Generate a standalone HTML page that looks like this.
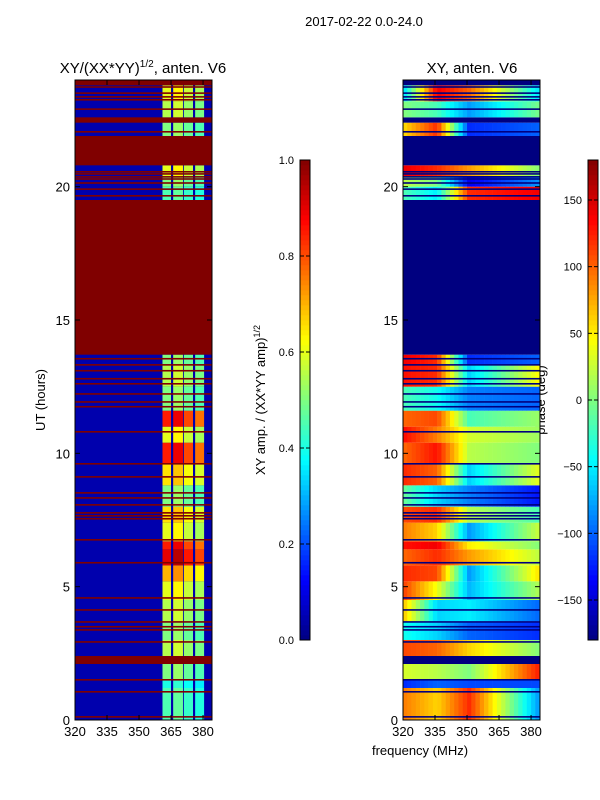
<!DOCTYPE html>
<html><head><meta charset="utf-8"><style>
body{margin:0;background:#fff;}
svg{display:block;font-family:"Liberation Sans",sans-serif;}
</style></head><body>
<svg id="fig" width="600" height="800" xmlns="http://www.w3.org/2000/svg">
<text x="364" y="26" font-size="13" text-anchor="middle">2017-02-22 0.0-24.0</text>
<text x="143" y="73" font-size="15" text-anchor="middle">XY/(XX*YY)<tspan font-size="10" dy="-6">1/2</tspan><tspan dy="6">, anten. V6</tspan></text>
<text x="472" y="73" font-size="15" text-anchor="middle">XY, anten. V6</text>
<text x="420" y="755" font-size="13" text-anchor="middle">frequency (MHz)</text>
<text transform="translate(45,400) rotate(-90)" font-size="13" text-anchor="middle">UT (hours)</text>
<text transform="translate(265,400) rotate(-90)" font-size="13" text-anchor="middle">XY amp. / (XX*YY amp)<tspan font-size="9" dy="-5">1/2</tspan></text>
<text transform="translate(545,400) rotate(-90)" font-size="13" text-anchor="middle">phase (deg)</text>
<g id="left"></g>
<g id="right"></g>
<g id="axes"></g>
<g id="cbars"></g>
</svg>
<script>
// time bands (hours), active-column amplitude, flag, phases at 320/335/350/380 MHz
const bandStart=[0,1.2,1.5,2.1,2.4,3.0,3.7,4.5,5.2,5.8,6.4,6.7,7.4,8.0,8.8,9.6,10.4,11.0,11.6,12.5,13.3,13.7,19.5,20.0,20.4,20.8,21.9,22.4,22.6,23.2,23.8];
const bandEnd=[1.2,1.5,2.1,2.4,3.0,3.7,4.5,5.2,5.8,6.4,6.7,7.4,8.0,8.8,9.6,10.4,11.0,11.6,12.5,13.3,13.7,19.5,20.0,20.4,20.8,21.9,22.4,22.6,23.2,23.8,24];
const bandAmp=[0.45,0.4,0.5,1,0.55,0.5,0.55,0.6,0.7,0.9,0.85,0.6,0.65,0.5,0.65,0.85,0.6,0.85,0.5,0.55,0.5,1,0.45,0.5,0.6,1,0.5,1,0.55,0.6,1];
const bandFlag=[0,0,0,1,0,0,0,0,0,0,0,0,0,0,0,0,0,0,0,0,0,1,0,0,0,1,0,1,0,0,1];
const phaseA=[90,-120,30,0,110,-40,60,110,120,100,130,90,110,-10,120,100,130,100,-20,130,140,0,-20,20,140,0,60,0,0,-50,0];
const phaseB=[60,-100,20,0,100,-60,-60,40,110,120,140,60,120,-60,100,130,90,110,-40,120,120,0,-50,0,120,0,120,0,-20,140,0];
const phaseC=[120,-110,0,0,60,-100,-50,-70,-80,80,50,-80,20,-90,-60,20,30,-20,-90,-60,-120,0,120,-140,80,0,-120,0,-80,100,0];
const phaseD=[-90,-110,130,0,0,-120,-100,20,60,20,0,30,-20,-130,40,0,10,10,-100,50,-100,0,140,-80,0,0,-100,0,0,-60,0];
const flagLines=[13.54,13.31,13.09,12.79,12.6,12.22,11.92,11.74,10.8,9.6,9.11,8.51,8.32,8.06,7.76,7.65,7.54,6.75,5.89,4.57,4.12,3.67,3.49,3.37,2.92,1.5,1.05,0.11,23.73,23.5,23.36,23.25,22.9,22.05,20.55,20.47,20.36,20.28,20.13,19.9,19.65];
const colStart=[361,366,371,376.3];
const colEnd=[365,370.6,375.3,380.5];
const colGain=[1,1.05,0.95,0.9];
const ampTicks=[0,0.2,0.4,0.6,0.8,1.0];
const phaseTicks=[-150,-100,-50,0,50,100,150];
const xTicks=[320,335,350,365,380];
const yTicks=[0,5,10,15,20];

const NS="http://www.w3.org/2000/svg";
const Y0=720,Y1=80,F0=320,F1=384.2;
const yS=h=>Y0-(h/24)*(Y0-Y1);
const xL=f=>75+(f-F0)/(F1-F0)*137;
const xR=f=>403+(f-F0)/(F1-F0)*137;
function jet(v){v=Math.max(0,Math.min(1,v));
 const c=x=>Math.round(255*Math.max(0,Math.min(1,1.5-Math.abs(4*v-x))));
 return `rgb(${c(3)},${c(2)},${c(1)})`;}
function rect(g,x,y,w,h,fill,name){const r=document.createElementNS(NS,'rect');
 r.setAttribute('x',x);r.setAttribute('y',y);r.setAttribute('width',w);r.setAttribute('height',h);r.setAttribute('fill',fill);
 
 
 g.appendChild(r);return r;}
const L=document.getElementById('left'),R=document.getElementById('right');
const bg=jet(0.045);
rect(L,75,80,137,640,bg,'amp-background');
for(let i=0;i<bandStart.length;i++){
 const y=yS(bandEnd[i]),h=yS(bandStart[i])-y;
 if(bandFlag[i]){rect(L,75,y,137,h,jet(1),'amp-flag-band');rect(R,403,y,137,h,jet(0),'phase-flag-band');continue;}
 for(let c=0;c<colStart.length;c++){
  const x=xL(colStart[c]);rect(L,x,y,xL(colEnd[c])-x,h,jet(bandAmp[i]*colGain[c]),'amp-cell');}
 const anch=[320,335,350,384],vals=[phaseA[i],phaseB[i],phaseC[i],phaseD[i]];
 for(let f=320;f<384.2;f+=2){
  let k=0;while(k<2&&f>anch[k+1])k++;
  const t=Math.min(1,(f-anch[k])/(anch[k+1]-anch[k]));
  const p=vals[k]+(vals[k+1]-vals[k])*t;
  rect(R,xR(f),y,xR(Math.min(f+2,F1))-xR(f)+0.3,h,jet((p+180)/360),'phase-cell');}
}
for(const h of flagLines){
 rect(L,75,yS(h)-1,137,1.6,jet(1),'amp-flag-line');
 rect(R,403,yS(h)-1,137,1.6,jet(0),'phase-flag-line');}
const A=document.getElementById('axes');
function line(g,x1,y1,x2,y2,name,w){const l=document.createElementNS(NS,'line');
 l.setAttribute('x1',x1);l.setAttribute('y1',y1);l.setAttribute('x2',x2);l.setAttribute('y2',y2);
 l.setAttribute('stroke','#000');l.setAttribute('stroke-width',w||1);
 
 
 g.appendChild(l);}
function text(g,x,y,s,anchor,name){const t=document.createElementNS(NS,'text');
 t.setAttribute('x',x);t.setAttribute('y',y);t.setAttribute('font-size','13');t.setAttribute('text-anchor',anchor);t.textContent=s;
 
 
 g.appendChild(t);}
for(const [x0,xs] of [[75,xL],[403,xR]]){
 const fr=document.createElementNS(NS,'rect');fr.setAttribute('x',x0);fr.setAttribute('y',80);fr.setAttribute('width',137);fr.setAttribute('height',640);
 fr.setAttribute('fill','none');fr.setAttribute('stroke','#000');
 
 
 A.appendChild(fr);
 for(const f of xTicks){const x=xs(f);line(A,x,720,x,715,'x-tick');line(A,x,80,x,85,'x-tick');text(A,x,736,String(f),'middle','x-tick-label');}
 for(const h of yTicks){const y=yS(h);line(A,x0,y,x0+5,y,'y-tick');line(A,x0+137,y,x0+132,y,'y-tick');text(A,x0-5,y+5,String(h),'end','y-tick-label');}
}
const C=document.getElementById('cbars');
for(const [cx,lo,hi,ticks,fmt] of [[300,0,1,ampTicks,v=>v.toFixed(1)],[588,-180,180,phaseTicks,v=>v<0?'\u2212'+(-v):String(v)]]){
 for(let k=0;k<96;k++){rect(C,cx,640-(k+1)*5,10,5.3,jet((k+0.5)/96),'colorbar-segment');}
 const fr=document.createElementNS(NS,'rect');fr.setAttribute('x',cx);fr.setAttribute('y',160);fr.setAttribute('width',10);fr.setAttribute('height',480);
 fr.setAttribute('fill','none');fr.setAttribute('stroke','#000');
 
 
 C.appendChild(fr);
 for(const v of ticks){const y=640-(v-lo)/(hi-lo)*480;line(C,cx,y,cx+4,y,'colorbar-tick');line(C,cx+10,y,cx+6,y,'colorbar-tick');
  text(C,cx-6,y+4,fmt(v),'end','colorbar-tick-label');}
}
document.querySelectorAll('#cbars text').forEach(t=>t.setAttribute('font-size','11'));
</script>
</body></html>
